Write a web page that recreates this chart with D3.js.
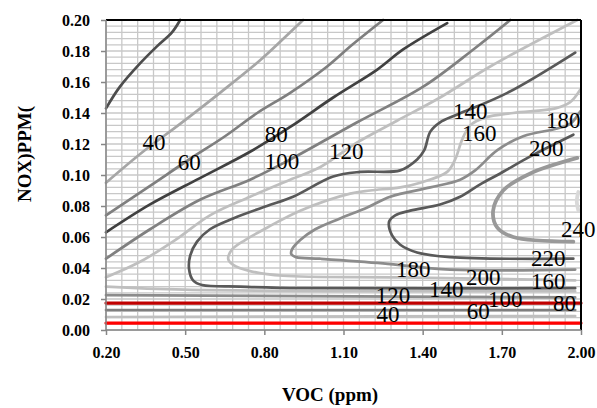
<!DOCTYPE html>
<html><head><meta charset="utf-8">
<script src="https://cdn.jsdelivr.net/npm/d3@7"></script>
<style>body{margin:0;background:#fff}svg{display:block}</style>
</head><body><svg id="c" width="597" height="408"></svg>
<script>
// ---------- data ----------
const xTicks = [0.20, 0.50, 0.80, 1.10, 1.40, 1.70, 2.00];
const yTicks = [0.00, 0.02, 0.04, 0.06, 0.08, 0.10, 0.12, 0.14, 0.16, 0.18, 0.20];
const xTitle = "VOC (ppm)";
const yTitle = "NOX)PPM(";

// contour lines: [VOC, NOX] pairs
const c20Upper = [[0.200,0.143],[0.253,0.157],[0.329,0.172],[0.393,0.183],[0.450,0.192],[0.481,0.200]];
const c40Upper = [[0.200,0.095],[0.340,0.115],[0.481,0.133],[0.632,0.153],[0.784,0.174],[0.879,0.189],[0.947,0.200]];
const c60Upper = [[0.200,0.074],[0.367,0.093],[0.515,0.110],[0.651,0.125],[0.773,0.140],[0.898,0.153],[1.038,0.170],[1.133,0.184],[1.250,0.200]];
const c80Upper = [[0.200,0.063],[0.367,0.081],[0.556,0.098],[0.746,0.115],[0.898,0.131],[1.061,0.150],[1.228,0.168],[1.326,0.181],[1.493,0.198]];
const c100Upper = [[0.200,0.046],[0.367,0.065],[0.556,0.084],[0.746,0.097],[0.898,0.110],[1.152,0.134],[1.402,0.157],[1.592,0.181],[1.732,0.200]];
const c120Upper = [[0.200,0.034],[0.329,0.044],[0.462,0.058],[0.594,0.074],[0.746,0.086],[0.898,0.097],[1.011,0.105],[1.152,0.121],[1.303,0.135],[1.466,0.150],[1.656,0.170],[1.986,0.200]];
const c140 = [[1.978,0.179],[1.721,0.153],[1.531,0.139],[1.466,0.134],[1.429,0.128],[1.406,0.116],[1.379,0.110],[1.315,0.103],[1.163,0.102],[1.061,0.099],[0.909,0.086],[0.810,0.080],[0.682,0.072],[0.594,0.065],[0.545,0.057],[0.519,0.048],[0.515,0.039],[0.530,0.032],[0.564,0.029],[0.708,0.028],[0.936,0.027],[1.978,0.027]];
const c160 = [[1.997,0.155],[1.959,0.147],[1.903,0.143],[1.743,0.140],[1.637,0.137],[1.580,0.132],[1.550,0.123],[1.523,0.110],[1.493,0.102],[1.391,0.095],[1.315,0.092],[1.201,0.090],[1.125,0.088],[0.936,0.077],[0.810,0.066],[0.727,0.058],[0.678,0.052],[0.663,0.046],[0.682,0.042],[0.746,0.038],[0.871,0.035],[1.315,0.034],[1.978,0.032]];
const c180 = [[1.997,0.141],[1.959,0.133],[1.910,0.130],[1.781,0.125],[1.683,0.116],[1.599,0.103],[1.542,0.097],[1.429,0.092],[1.277,0.086],[1.190,0.079],[1.087,0.072],[0.993,0.065],[0.936,0.058],[0.905,0.052],[0.902,0.049],[0.920,0.047],[1.011,0.046],[1.250,0.043],[1.504,0.039],[1.978,0.039]];
const c200 = [[1.971,0.126],[1.808,0.112],[1.694,0.101],[1.618,0.094],[1.542,0.086],[1.466,0.081],[1.353,0.077],[1.296,0.074],[1.273,0.070],[1.284,0.061],[1.315,0.055],[1.379,0.050],[1.504,0.047],[1.971,0.046]];
const c240 = [[1.986,0.111],[1.808,0.101],[1.705,0.090],[1.667,0.077],[1.683,0.066],[1.743,0.060],[1.971,0.057]];
const c260 = [[1.990,0.089],[1.984,0.083],[1.990,0.077]];
const low20 = [[0.200,0.0045],[2.000,0.0045]];
const low40 = [[0.200,0.0084],[1.978,0.0090]];
const low60 = [[0.200,0.0129],[1.978,0.0129]];
const low80 = [[0.200,0.0174],[2.000,0.0174]];
const low100 = [[0.200,0.0225],[1.978,0.0210]];
const low120 = [[0.200,0.0280],[0.500,0.0260],[1.978,0.0250]];

const lineData   = [c20Upper, c40Upper, c60Upper, c80Upper, c100Upper, c120Upper, c140, c160, c180, c200, c240, c260, low20, low40, low60, low80, low100, low120];
const lineColor  = ["#4d4d4d","#a6a6a6","#7f7f7f","#404040","#808080","#bfbfbf","#595959","#bfbfbf","#8c8c8c","#595959","#999999","#d9d9d9","#ff0000","#bfbfbf","#7f7f7f","#c00000","#8c8c8c","#bfbfbf"];
const lineWidth  = [2.7,2.7,2.7,2.7,2.7,2.7,2.7,2.7,2.7,2.7,3.8,3.8,3.2,2.7,2.7,3.2,2.7,2.7];

const labelText = ["40","60","80","100","120","140","160","180","200","240","180","120","40","140","200","60","100","220","160","80"];
const labelVoc  = [0.382,0.515,0.845,0.867,1.110,1.580,1.614,1.933,1.868,1.990,1.364,1.288,1.269,1.489,1.630,1.611,1.713,1.876,1.876,1.937];
const labelNox  = [0.121,0.108,0.126,0.109,0.115,0.141,0.127,0.135,0.117,0.065,0.039,0.022,0.0097,0.026,0.034,0.012,0.020,0.046,0.031,0.017];

// ---------- drawing ----------
const svg = d3.select("#c");
const x = d3.scaleLinear().domain([0.2, 2.0]).range([106, 581]);
const y = d3.scaleLinear().domain([0, 0.2]).range([330, 20]);

// grid
const vGrid = d3.range(0, 31).map(i => 0.2 + i * 0.06);
const hGrid = d3.range(0, 51).map(i => i * 0.004);
const g = svg.append("g");
g.selectAll("line.v").data(vGrid).join("line")
  .attr("x1", d => x(d)).attr("x2", d => x(d)).attr("y1", y(0)).attr("y2", y(0.2))
  .attr("stroke", "#c8c8c8").attr("stroke-width", 1.3);
g.selectAll("line.h").data(hGrid).join("line")
  .attr("y1", d => y(d)).attr("y2", d => y(d)).attr("x1", x(0.2)).attr("x2", x(2.0))
  .attr("stroke", "#c8c8c8").attr("stroke-width", 1.3);

// contour lines
const line = d3.line().x(d => x(d[0])).y(d => y(d[1])).curve(d3.curveCatmullRom.alpha(0.5));
svg.append("g").selectAll("path").data(lineData).join("path")
  .attr("d", line).attr("fill", "none")
  .attr("stroke", (d, i) => lineColor[i]).attr("stroke-width", (d, i) => lineWidth[i])
  .attr("stroke-linecap", "round").attr("stroke-linejoin", "round");

// frame: top & right black
svg.append("line").attr("x1", x(0.2)).attr("x2", x(2.0)).attr("y1", y(0.2)).attr("y2", y(0.2)).attr("stroke", "#000").attr("stroke-width", 2);
svg.append("line").attr("x1", x(2.0)).attr("x2", x(2.0)).attr("y1", y(0.2)).attr("y2", y(0)).attr("stroke", "#000").attr("stroke-width", 2);

// axes
const fmt = d3.format(".2f");
const ax = svg.append("g").attr("transform", `translate(0,${y(0)})`)
  .call(d3.axisBottom(x).tickValues(xTicks).tickFormat(fmt).tickSize(5).tickPadding(12));
const ay = svg.append("g").attr("transform", `translate(${x(0.2)},0)`)
  .call(d3.axisLeft(y).tickValues(yTicks).tickFormat(fmt).tickSize(5).tickPadding(11));
[ax, ay].forEach(a => {
  a.selectAll("path,line").attr("stroke", "#868686").attr("stroke-width", 1.5);
  a.selectAll("text").attr("font-family", "'Liberation Serif', 'Times New Roman', serif")
    .attr("font-weight", "bold").attr("font-size", 16).attr("fill", "#000");
});
ax.select(".domain").attr("d", `M${x(0.2)},0H${x(2.0)}`);
ay.select(".domain").attr("d", `M0,${y(0)}V${y(0.2)}`);

// contour labels
svg.append("g").selectAll("text").data(labelText).join("text")
  .attr("x", (d, i) => x(labelVoc[i])).attr("y", (d, i) => y(labelNox[i]) + 7.5)
  .attr("text-anchor", "middle")
  .style("font-family", "'Liberation Serif', 'Times New Roman', serif")
  .attr("font-size", 23).attr("fill", "#000").text(d => d);

// titles
svg.append("text").attr("x", 330).attr("y", 401).attr("text-anchor", "middle")
  .attr("font-family", "'Liberation Serif', 'Times New Roman', serif").attr("font-weight", "bold")
  .attr("font-size", 19).text(xTitle);
svg.append("text").attr("transform", "translate(31,154) rotate(-90)").attr("text-anchor", "middle")
  .attr("font-family", "'Liberation Serif', 'Times New Roman', serif").attr("font-weight", "bold")
  .attr("font-size", 19).text(yTitle);
</script></body></html>
